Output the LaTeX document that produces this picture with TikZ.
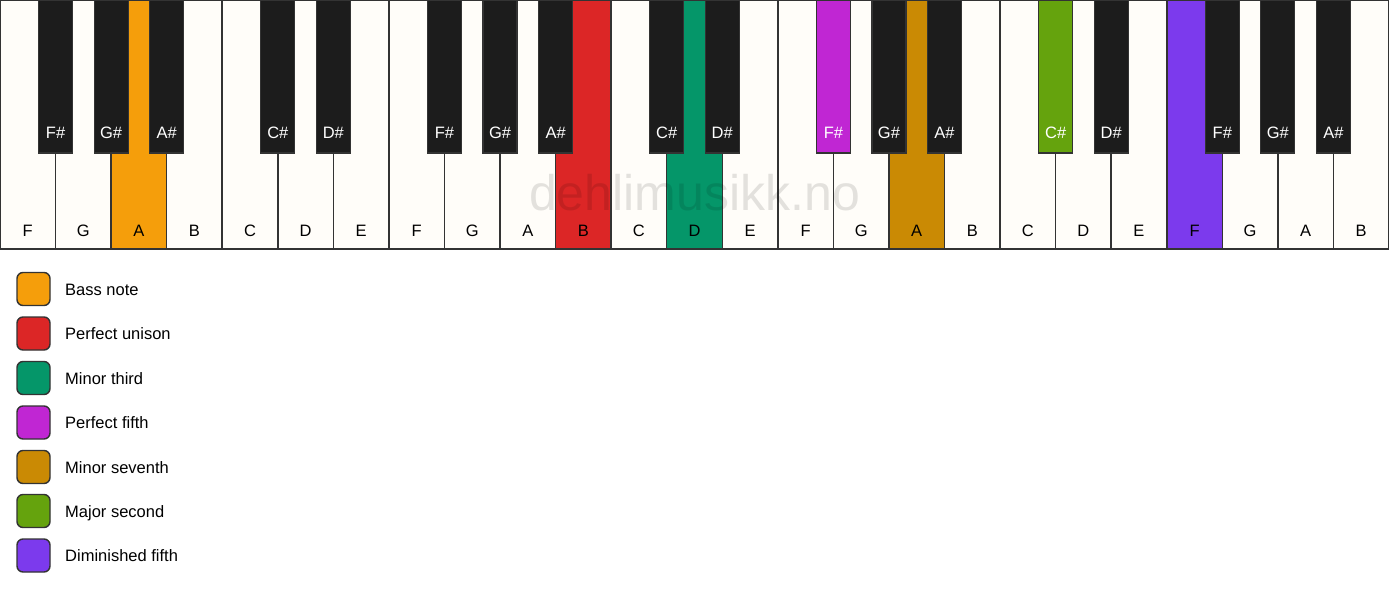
\documentclass[tikz,border=0pt]{standalone}
\usepackage{fontspec}
\setmainfont{Liberation Sans}
\definecolor{keywhite}{HTML}{FFFDF9}
\definecolor{keyblack}{HTML}{1C1C1C}
\definecolor{keyline}{HTML}{333333}
\definecolor{bassnote}{HTML}{F59E0B}
\definecolor{unison}{HTML}{DC2626}
\definecolor{minthird}{HTML}{059669}
\definecolor{perffifth}{HTML}{C026D3}
\definecolor{minseventh}{HTML}{CA8A04}
\definecolor{majsecond}{HTML}{65A30D}
\definecolor{dimfifth}{HTML}{7C3AED}
\tikzset{
	whitekey/.style = {draw = keyline, line width = 1.5pt},
	blackkey/.style = {draw = keyline, line width = 1.2pt},
	notename/.style = {font = \fontsize{16.5}{19}\selectfont, anchor = base, inner sep = 0pt},
	legendbox/.style = {draw = keyline, line width = 1.4pt, rounded corners = 6pt},
	legendtext/.style = {font = \fontsize{16.5}{19}\selectfont, anchor = base west, inner sep = 0pt},
	watermark/.style = {font = \fontsize{50}{60}\selectfont, anchor = base, inner sep = 0pt, text = black, text opacity = 0.11}
}
\begin{document}
\begin{tikzpicture}[x = 1pt, y = -1pt]
	\useasboundingbox [fill = white] (0, 0) rectangle (1389, 594);
	% white keys
	\foreach \i/\note/\col in {0/F/keywhite, 1/G/keywhite, 2/A/bassnote, 3/B/keywhite, 4/C/keywhite, 5/D/keywhite, 6/E/keywhite,
		7/F/keywhite, 8/G/keywhite, 9/A/keywhite, 10/B/unison, 11/C/keywhite, 12/D/minthird, 13/E/keywhite,
		14/F/keywhite, 15/G/keywhite, 16/A/minseventh, 17/B/keywhite, 18/C/keywhite, 19/D/keywhite, 20/E/keywhite,
		21/F/dimfifth, 22/G/keywhite, 23/A/keywhite, 24/B/keywhite}{
		\draw [whitekey, fill = \col] ({\i*55.56}, 0) rectangle ({(\i+1)*55.56}, 249);
		\node[notename] (w\i) at ({(\i+0.5)*55.56}, 236) {\note};}
	\node[watermark] (mark) at (694.5, 210) {dehlimusikk.no};
	% black keys
	\foreach \b/\note/\col in {1/F\#/keyblack, 2/G\#/keyblack, 3/A\#/keyblack, 5/C\#/keyblack, 6/D\#/keyblack,
		8/F\#/keyblack, 9/G\#/keyblack, 10/A\#/keyblack, 12/C\#/keyblack, 13/D\#/keyblack,
		15/F\#/perffifth, 16/G\#/keyblack, 17/A\#/keyblack, 19/C\#/majsecond, 20/D\#/keyblack,
		22/F\#/keyblack, 23/G\#/keyblack, 24/A\#/keyblack}{
		\draw [blackkey, fill = \col] ({\b*55.56-17}, 0) rectangle ({\b*55.56+17}, 153);
		\node[notename, text = white] (b\b) at ({\b*55.56}, 138) {\note};}
	% legend
	\foreach \y/\col/\txt in {289/bassnote/Bass note, 333.5/unison/Perfect unison, 378/minthird/Minor third,
		422.5/perffifth/Perfect fifth, 467/minseventh/Minor seventh, 511/majsecond/Major second, 555.5/dimfifth/Diminished fifth}{
		\draw [legendbox, fill = \col] (17, {\y-16.5}) rectangle (50, {\y+16.5});
		\node[legendtext] (l\y) at (65, {\y+6}) {\txt};}
\end{tikzpicture}
\end{document}
